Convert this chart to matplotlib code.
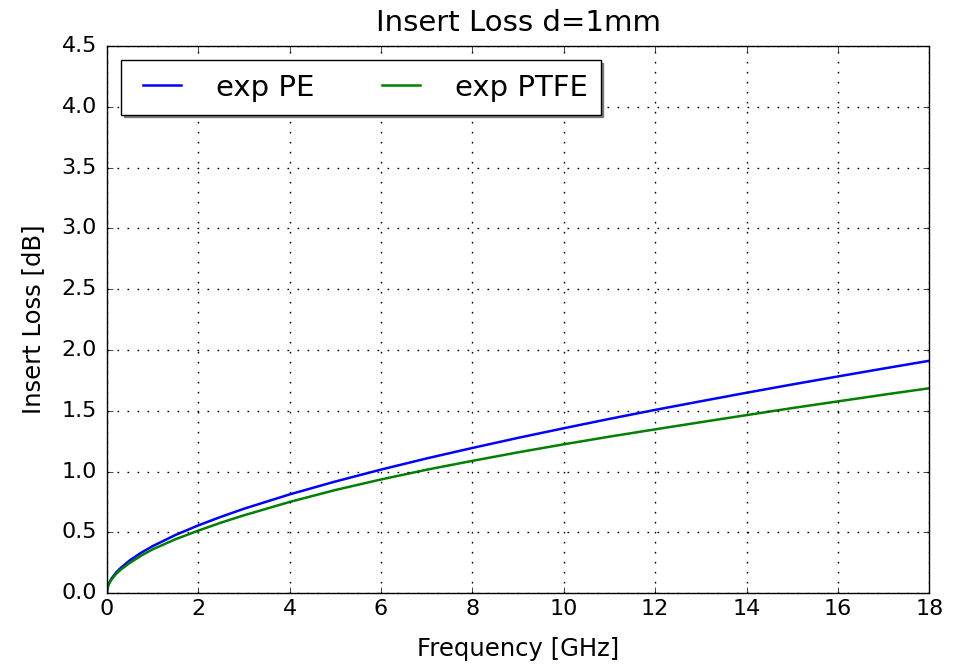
import matplotlib
matplotlib.use('Agg')
import matplotlib.pyplot as plt

# values
freq = [0, 0.02, 0.05, 0.1, 0.2, 0.3, 0.5, 0.75, 1, 1.5, 2, 2.5, 3, 4, 5, 6, 7, 8, 9,
        10, 11, 12, 13, 14, 15, 16, 17, 18]
loss_pe = [0, 0.052, 0.083, 0.118, 0.168, 0.206, 0.269, 0.332, 0.386, 0.478, 0.557,
           0.628, 0.694, 0.812, 0.918, 1.016, 1.108, 1.194, 1.277, 1.356, 1.433, 1.507,
           1.578, 1.648, 1.716, 1.782, 1.847, 1.911]
loss_ptfe = [0, 0.049, 0.078, 0.110, 0.157, 0.192, 0.248, 0.308, 0.360, 0.443, 0.514,
             0.580, 0.640, 0.750, 0.848, 0.935, 1.015, 1.088, 1.158, 1.224, 1.287, 1.347,
             1.406, 1.464, 1.522, 1.577, 1.632, 1.685]

plt.style.use('classic')
fig = plt.figure(figsize=(9.62, 6.65), dpi=100)
ax = fig.add_axes([0.111, 0.108, 0.855, 0.823])

ax.plot(freq, loss_pe, 'b', lw=1.8, label='exp PE')
ax.plot(freq, loss_ptfe, 'g', lw=1.8, label='exp PTFE')

ax.set_xlim(0, 18)
ax.set_ylim(0, 4.5)
ax.set_xticks(range(0, 19, 2))
ax.set_yticks([i * 0.5 for i in range(10)])
ax.tick_params(labelsize=16)
ax.tick_params(axis='y', pad=7)
ax.grid(True, color='k', linestyle=(0, (1.2, 6)), linewidth=1.0)
ax.set_xlabel('Frequency [GHz]', fontsize=17.5, labelpad=13)
ax.set_ylabel('Insert Loss [dB]', fontsize=17.5, labelpad=12)
ax.set_title('Insert Loss d=1mm', fontsize=21, pad=11)
ax.legend(loc='upper left', ncol=2, fontsize=21, handlelength=1.9,
          handletextpad=0.9, columnspacing=2.0, borderpad=0.45,
          shadow={'color': '0.45', 'alpha': 0.9})

fig.savefig('out.png', dpi=100)
